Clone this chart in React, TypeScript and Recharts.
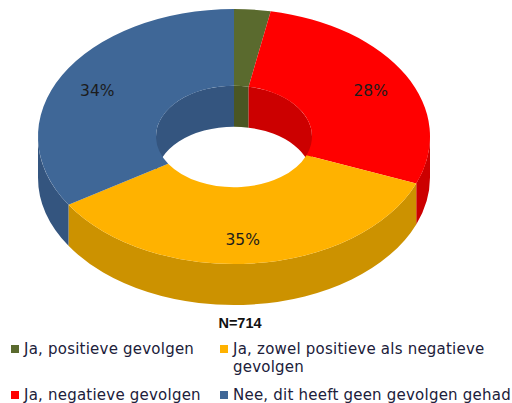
import React from "react";
import { PieChart, Pie, Legend } from "recharts";

const categories = [
  "Ja, positieve gevolgen",
  "Ja, negatieve gevolgen",
  "Ja, zowel positieve als negatieve gevolgen",
  "Nee, dit heeft geen gevolgen gehad",
];
const values = [3, 28, 35, 34];
const topColors = ["#5a6a2e", "#ff0000", "#ffb200", "#3f6797"];
const wallColors = ["#4a5623", "#cc0000", "#cc9200", "#34557f"];
const sampleLabel = "N=714";

const W = 512, H = 403, CX = 234, CY = 136.5, RX = 196, IRX = 78;
const SQUASH = 127.5 / 196;
const DEPTH = 41;
const FONT = "'DejaVu Sans', sans-serif";

const topRows = categories.map((name, i) => ({ name, value: values[i], fill: topColors[i] }));
const wallRows = categories.map((name, i) => ({ name, value: values[i], fill: wallColors[i] }));

const rad = Math.PI / 180;
const pt = (cx: number, cy: number, r: number, a: number, dy = 0) =>
  `${(cx + r * Math.cos(a * rad)).toFixed(2)} ${(cy - r * SQUASH * Math.sin(a * rad) + dy).toFixed(2)}`;

function TopFace(p: any) {
  const { cx, cy, innerRadius: ir, outerRadius: or, startAngle: s, endAngle: e, fill } = p;
  const large = Math.abs(s - e) > 180 ? 1 : 0;
  const d =
    `M${pt(cx, cy, or, s)} A${or} ${or * SQUASH} 0 ${large} 1 ${pt(cx, cy, or, e)} ` +
    `L${pt(cx, cy, ir, e)} A${ir} ${ir * SQUASH} 0 ${large} 0 ${pt(cx, cy, ir, s)} Z`;
  return <path d={d} fill={fill} />;
}

function band(cx: number, cy: number, r: number, a1: number, a2: number) {
  // a1 > a2, clockwise on screen
  if (a1 <= a2) return "";
  const large = a1 - a2 > 180 ? 1 : 0;
  const ry = r * SQUASH;
  return (
    `M${pt(cx, cy, r, a1)} A${r} ${ry} 0 ${large} 1 ${pt(cx, cy, r, a2)} ` +
    `L${pt(cx, cy, r, a2, DEPTH)} A${r} ${ry} 0 ${large} 0 ${pt(cx, cy, r, a1, DEPTH)} Z `
  );
}

function Wall(p: any) {
  const { cx, cy, innerRadius: ir, outerRadius: or, startAngle: s, endAngle: e, fill } = p;
  const d =
    band(cx, cy, or, Math.min(s, 0), Math.max(e, -180)) +
    band(cx, cy, ir, Math.min(s, 90), Math.max(e, 0)) +
    band(cx, cy, ir, Math.min(s, -180), Math.max(e, -270));
  return <path d={d} fill={fill} />;
}

const labelNudge = [
  [0, 0],
  [0, 0],
  [-6, 9],
  [0, 0],
];

function PctLabel(p: any) {
  const { cx, cy, midAngle, index, value } = p;
  if (index === 0) return null;
  const r = 156;
  const x = cx + r * Math.cos(midAngle * rad) + labelNudge[index][0];
  const y = cy - 95 * Math.sin(midAngle * rad) + labelNudge[index][1];
  return (
    <text x={x} y={y} textAnchor="middle" dominantBaseline="central" fontFamily={FONT} fontSize={15.5} fill="#1c1c1c">
      {value}%
    </text>
  );
}

function LegendBox() {
  return (
    <div
      style={{
        display: "grid",
        gridTemplateColumns: "209px 290px",
        gridTemplateRows: "46px 20px",
        gridAutoFlow: "column",
        fontFamily: FONT,
        fontSize: 15,
        letterSpacing: 0.22,
        lineHeight: "18px",
        color: "#20203a",
      }}
    >
      {categories.map((name, i) => (
        <div
          key={name}
          style={{ position: "relative", paddingLeft: 13, whiteSpace: i === 2 ? "normal" : "nowrap" }}
        >
          <span style={{ position: "absolute", left: 0, top: 5, width: 8, height: 8, background: topColors[i] }} />
          {name}
        </div>
      ))}
    </div>
  );
}

export default function App() {
  return (
    <div style={{ position: "absolute", left: 0, top: 0, width: W, height: H, background: "#fff", overflow: "hidden" }}>
      <PieChart width={W} height={H} margin={{ top: 0, right: 0, bottom: 0, left: 0 }}>
        <Pie
          data={wallRows}
          dataKey="value"
          nameKey="name"
          cx={CX}
          cy={CY}
          innerRadius={IRX}
          outerRadius={RX}
          startAngle={90}
          endAngle={-270}
          stroke="none"
          legendType="none"
          shape={Wall}
          isAnimationActive={false}
        />
        <Pie
          data={topRows}
          dataKey="value"
          nameKey="name"
          cx={CX}
          cy={CY}
          innerRadius={IRX}
          outerRadius={RX}
          startAngle={90}
          endAngle={-270}
          stroke="none"
          shape={TopFace}
          label={PctLabel}
          labelLine={false}
          isAnimationActive={false}
        />
        <Legend
          content={<LegendBox />}
          wrapperStyle={{ left: 11, top: 340, width: 501, bottom: "auto" }}
        />
      </PieChart>
      <div
        style={{
          position: "absolute",
          left: 140,
          width: 200,
          top: 315,
          textAlign: "center",
          fontFamily: "'Liberation Sans', Arial, sans-serif",
          fontWeight: 700,
          fontSize: 14.5,
          color: "#111",
        }}
      >
        {sampleLabel}
      </div>
    </div>
  );
}
